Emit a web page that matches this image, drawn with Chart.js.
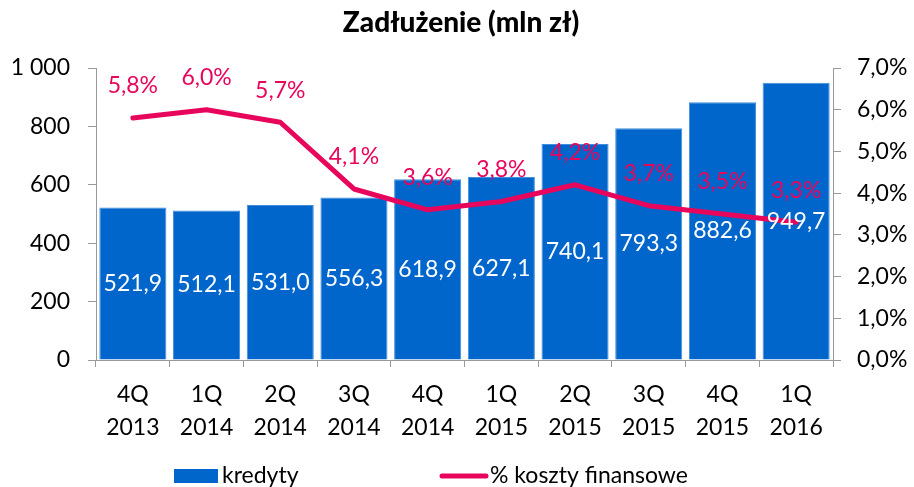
<!DOCTYPE html>
<html><head><meta charset="utf-8">
<script src="https://cdn.jsdelivr.net/npm/chart.js@4/dist/chart.umd.min.js"></script>
<style>html,body{margin:0;padding:0;background:#fff}#wrap{width:914px;height:487px;position:relative;overflow:hidden}</style>
</head><body><div id="wrap"><canvas id="c" width="914" height="487"></canvas></div>
<script>
const chartTitle = 'Zadłużenie (mln zł)';
const categories = [['4Q','2013'],['1Q','2014'],['2Q','2014'],['3Q','2014'],['4Q','2014'],['1Q','2015'],['2Q','2015'],['3Q','2015'],['4Q','2015'],['1Q','2016']];
const kredyty = [521.9, 512.1, 531.0, 556.3, 618.9, 627.1, 740.1, 793.3, 882.6, 949.7];
const kosztyFinansowe = [5.8, 6.0, 5.7, 4.1, 3.6, 3.8, 4.2, 3.7, 3.5, 3.3];
const seriesNames = ['kredyty', '% koszty finansowe'];
const leftAxis = {min: 0, max: 1000, step: 200};
const rightAxis = {min: 0, max: 7, step: 1};

const BLUE = '#0066CC', PINK = '#E8065C', FONT = 'Lato, "Open Sans", sans-serif';
const fmt1 = v => v.toFixed(1).replace('.', ',');
const fmtThousands = v => String(v).replace(/\B(?=(\d{3})+(?!\d))/g, ' ');

const labelsPlugin = {
  id: 'customLabels',
  afterDatasetsDraw(chart) {
    const ctx = chart.ctx;
    ctx.save();
    ctx.font = '23px ' + FONT;
    ctx.textAlign = 'center';
    ctx.textBaseline = 'middle';
    const barMeta = chart.getDatasetMeta(1);
    barMeta.data.forEach((el, i) => {
      ctx.fillStyle = '#fff';
      ctx.fillText(fmt1(kredyty[i]), el.x, (el.y + el.base) / 2);
    });
    const lineMeta = chart.getDatasetMeta(0);
    lineMeta.data.forEach((el, i) => {
      ctx.fillStyle = PINK;
      ctx.fillText(fmt1(kosztyFinansowe[i]) + '%', el.x, el.y - 32);
    });
    ctx.restore();
  },
  afterDraw(chart) {
    const ctx = chart.ctx;
    ctx.save();
    ctx.fillStyle = '#000';
    ctx.font = '900 28px ' + FONT;
    ctx.textAlign = 'center';
    ctx.textBaseline = 'middle';
    ctx.fillText(chartTitle, 461, 23);
    // legend
    ctx.font = '23px ' + FONT;
    ctx.textAlign = 'left';
    ctx.fillStyle = BLUE;
    ctx.fillRect(174, 469, 44, 14);
    ctx.fillStyle = '#000';
    ctx.fillText(seriesNames[0], 222, 476);
    ctx.strokeStyle = PINK;
    ctx.lineWidth = 5;
    ctx.lineCap = 'round';
    ctx.beginPath();
    ctx.moveTo(442, 476); ctx.lineTo(486, 476); ctx.stroke();
    ctx.fillText(seriesNames[1], 490, 476);
    ctx.restore();
  }
};

new Chart(document.getElementById('c'), {
  data: {
    labels: categories,
    datasets: [
      {type: 'line', label: seriesNames[1], data: kosztyFinansowe, yAxisID: 'y1',
       borderColor: PINK, borderWidth: 5, pointRadius: 0, tension: 0, order: 0,
       borderCapStyle: 'round', borderJoinStyle: 'round'},
      {type: 'bar', label: seriesNames[0], data: kredyty, yAxisID: 'y',
       backgroundColor: BLUE, borderColor: '#3F8EDB', borderWidth: 1,
       barPercentage: 0.91, categoryPercentage: 1.0, order: 1}
    ]
  },
  options: {
    responsive: false,
    animation: false,
    layout: {padding: {top: 68, left: 0, right: 0, bottom: 0}},
    plugins: {legend: {display: false}, title: {display: false}, tooltip: {enabled: false}},
    scales: {
      x: {
        offset: true,
        grid: {drawOnChartArea: false, drawTicks: true, tickLength: 7, color: '#999', offset: true},
        border: {color: '#999', width: 1},
        ticks: {color: '#000', font: {family: FONT, size: 23, lineHeight: 1.43}, padding: 11, maxRotation: 0, autoSkip: false},
        afterFit(s) { s.height = 127; }
      },
      y: {
        position: 'left', min: leftAxis.min, max: leftAxis.max,
        grid: {drawOnChartArea: false, drawTicks: true, tickLength: 8, color: '#999'},
        border: {color: '#999', width: 1},
        ticks: {stepSize: leftAxis.step, color: '#000', font: {family: FONT, size: 23}, padding: 18,
                callback: v => fmtThousands(v)},
        afterFit(s) { s.width = 96; }
      },
      y1: {
        position: 'right', min: rightAxis.min, max: rightAxis.max,
        grid: {drawOnChartArea: false, drawTicks: true, tickLength: 8, color: '#999'},
        border: {color: '#999', width: 1},
        ticks: {stepSize: rightAxis.step, color: '#000', font: {family: FONT, size: 23}, padding: 16,
                callback: v => v.toFixed(1).replace('.', ',') + '%'},
        afterFit(s) { s.width = 81; }
      }
    }
  },
  plugins: [labelsPlugin]
});
</script>
</body></html>
